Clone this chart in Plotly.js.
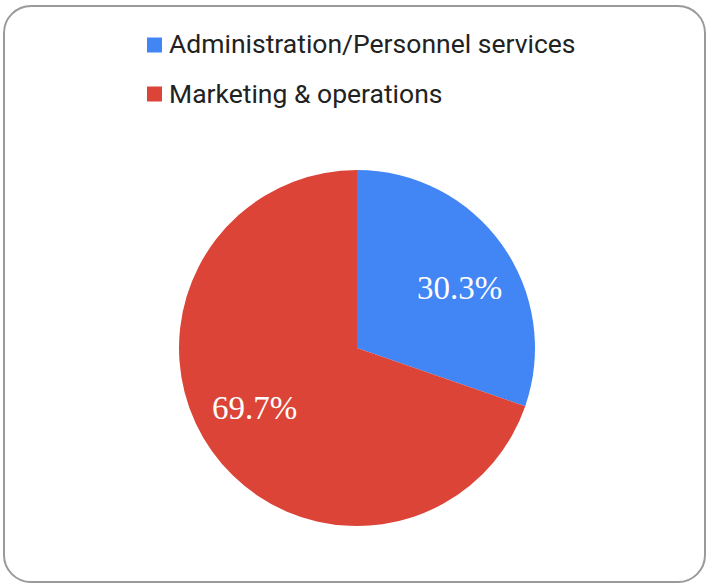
<!DOCTYPE html>
<html>
<head>
<meta charset="utf-8">
<script src="https://cdn.plot.ly/plotly-3.0.1.min.js"></script>
<style>
  html, body { margin: 0; padding: 0; background: #ffffff; }
  #chart { width: 707px; height: 583px; }
  #frame { position: absolute; left: 3px; top: 5px; width: 699px; height: 574px;
           border: 2px solid #9a9a9a; border-radius: 28px; pointer-events: none; }
</style>
</head>
<body>
<div id="chart"></div>
<div id="frame"></div>
<script>
const categories = ["Administration/Personnel services", "Marketing & operations"];
const shares = [30.3, 69.7];
const sliceColors = ["#4285F4", "#DB4437"];

const W = 707, H = 583;
const cx = 357, cy = 348, R = 178;

const trace = {
  type: "pie",
  labels: categories,
  values: shares,
  sort: false,
  direction: "clockwise",
  rotation: 0,
  marker: { colors: sliceColors, line: { width: 0 } },
  textinfo: "none",
  hoverinfo: "label+percent",
  showlegend: false,
  domain: { x: [(cx - R) / W, (cx + R) / W], y: [(H - cy - R) / H, (H - cy + R) / H] }
};

const shapes = [];
const annotations = [];
categories.forEach((c, i) => {
  const yc = 45 + i * 49;
  shapes.push({
    type: "rect", xref: "paper", yref: "paper",
    x0: 147 / W, x1: 162 / W,
    y0: 1 - (yc + 7.5) / H, y1: 1 - (yc - 7.5) / H,
    fillcolor: sliceColors[i], line: { width: 0 }
  });
  annotations.push({
    xref: "paper", yref: "paper", x: 167 / W, y: 1 - (yc - 1) / H,
    xanchor: "left", yanchor: "middle", showarrow: false,
    text: c, font: { family: "Roboto", size: 26.5, color: "#222222" }
  });
});

// percentage labels placed inside each slice
const total = shares.reduce((a, b) => a + b, 0);
let cum = 0;
shares.forEach((v, i) => {
  const frac = v / total;
  const mid = (cum + frac / 2) * 2 * Math.PI + 5 * Math.PI / 180;
  cum += frac;
  const r = 0.667 * R;
  const px = cx + r * Math.sin(mid);
  const py = cy - r * Math.cos(mid);
  annotations.push({
    xref: "paper", yref: "paper", x: px / W, y: 1 - py / H,
    xanchor: "center", yanchor: "middle", showarrow: false,
    text: (frac * 100).toFixed(1) + "%",
    font: { family: "Liberation Serif", size: 33, color: "#ffffff" }
  });
});

const layout = {
  width: W, height: H,
  margin: { l: 0, r: 0, t: 0, b: 0 },
  paper_bgcolor: "#ffffff",
  showlegend: false,
  shapes: shapes,
  annotations: annotations
};

Plotly.newPlot("chart", [trace], layout, { displayModeBar: false, staticPlot: true });
</script>
</body>
</html>
